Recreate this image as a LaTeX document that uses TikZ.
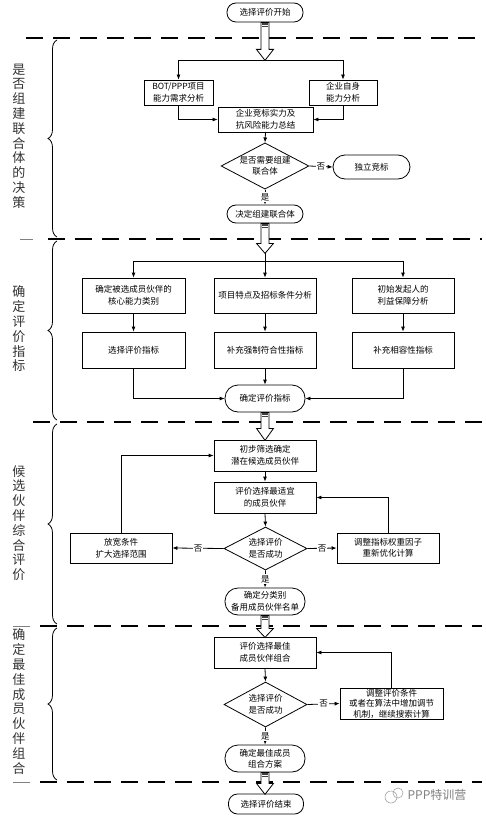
\documentclass[tikz,border=0pt]{standalone}
\usepackage{fontspec}
\newfontfamily\cjk{Noto Sans CJK SC}
\usetikzlibrary{shapes.geometric,arrows.meta,calc,decorations.pathreplacing}
\newcommand\harrow[3]{\draw[hollow] (#1) ++(-4,0) -- ++(0,#2) -- ++(-4.5,0) -- ++(8.5,#3) -- ++(8.5,-#3) -- ++(-4.5,0) -- ++(0,-#2) -- cycle;
  \fill[black!75] (#1) ++(-3.2,0.5) rectangle ++(6.4,4);
  \draw[white, line width=0.5pt] (#1) ++(-3.2,2.5) -- ++(6.4,0);}
\begin{document}
\begin{tikzpicture}[x=1pt,y=-1pt,
  every node/.style={font=\cjk\fontsize{8.5}{11.5}\selectfont, inner sep=0pt},
  box/.style={draw, line width=0.8pt, align=center},
  pill/.style={draw, rectangle, rounded corners=#1, line width=0.8pt, align=center},
  pill/.default=9pt,
  dec/.style={draw, diamond, line width=0.8pt, align=center, shape aspect=1.9},
  arr/.style={line width=0.8pt, -{Latex[length=5pt,width=4pt]}},
  ln/.style={line width=0.8pt},
  sep/.style={line width=2.6pt, dash pattern=on 17pt off 10pt},
  hollow/.style={draw, fill=white, line width=0.8pt},
  lbl/.style={fill=white, inner sep=1pt},
  sec/.style={font=\cjk\fontsize{13}{14.8}\selectfont, align=center, text=black!80},
  brc/.style={decorate, decoration={brace, amplitude=9pt}, line width=0.8pt}
]
\useasboundingbox (0,0) rectangle (486,818);
\fill[white] (0,0) rectangle (486,818);

% separators
\draw[sep] (26,38) -- (482,38);
\draw[sep] (48,239) -- (482,239);
\draw[sep] (33,422) -- (482,422);
\draw[sep] (40,626) -- (482,626);
\draw[sep] (40,782) -- (482,782);
\draw[gray, line width=0.6pt] (20,239) -- (33,239);
\draw[gray, line width=0.6pt] (13,626) -- (30,626);
\draw[gray, line width=0.6pt] (13,782) -- (30,782);

% braces and section labels
\draw[brc] (57,237) -- (57,40);
\draw[brc] (57,420) -- (57,241);
\draw[brc] (57,624) -- (57,424);
\draw[brc] (57,780) -- (57,628);
\node[sec] (s1) at (19,136) {是\\否\\组\\建\\联\\合\\体\\的\\决\\策};
\node[sec] (s2) at (19,329) {确\\定\\评\\价\\指\\标};
\node[sec] (s3) at (19,523) {候\\选\\伙\\伴\\综\\合\\评\\价};
\node[sec] (s4) at (19,701.5) {确\\定\\最\\佳\\成\\员\\伙\\伴\\组\\合};

% section 1
\node[pill, minimum width=76pt, minimum height=19pt] (start) at (265,12.5) {选择评价开始};
\node[box, minimum width=69pt, minimum height=25pt] (bot) at (178.5,92.5) {BOT/PPP项目\\能力需求分析};
\node[box, minimum width=68pt, minimum height=25pt] (self) at (343,92.5) {企业自身\\能力分析};
\node[box, minimum width=95pt, minimum height=25pt] (sum) at (265.5,119.5) {企业竞标实力及\\抗风险能力总结};
\node[dec, minimum width=86pt, minimum height=45pt] (d1) at (265,166) {是否需要组建\\联合体};
\node[pill=12pt, minimum width=77pt, minimum height=24pt] (indep) at (371.5,167) {独立竞标};
\node[pill, minimum width=76pt, minimum height=18pt] (decide) at (265,214) {决定组建联合体};

\coordinate (br1) at ($(start.south)+(0,38)$);
\draw[arr] (br1) -| (bot.north);
\draw[arr] (br1) -| (self.north);
\draw[arr] (bot.south) |- (sum.west);
\draw[arr] (self.south) |- (sum.east);
\draw[arr] (sum.south) -- (d1.north);
\draw[arr] (d1.east) -- node[lbl] {否} (indep.west);
\draw[arr] (d1.south) -- node[lbl] {是} (decide.north);

% section 2
\node[box, minimum width=103pt, minimum height=35pt] (b21) at (133.5,295.5) {确定被选成员伙伴的\\核心能力类别};
\node[box, minimum width=102pt, minimum height=35pt] (b22) at (265,295.5) {项目特点及招标条件分析};
\node[box, minimum width=102pt, minimum height=35pt] (b23) at (403,295.5) {初始发起人的\\利益保障分析};
\node[box, minimum width=103pt, minimum height=36pt] (b31) at (133.5,350) {选择评价指标};
\node[box, minimum width=102pt, minimum height=36pt] (b32) at (265,350) {补充强制符合性指标};
\node[box, minimum width=102pt, minimum height=36pt] (b33) at (403,350) {补充相容性指标};
\node[pill=13pt, minimum width=80pt, minimum height=27pt] (p2) at (265,398.5) {确定评价指标};

\coordinate (tip2) at ($(decide.south)+(0,30)$);
\coordinate (br2) at ($(decide.south)+(0,38)$);
\draw[ln] (tip2) -- (br2);
\draw[arr] (br2) -| (b21.north);
\draw[arr] (br2) -| (b23.north);
\draw[arr] (br2) -- (b22.north);
\draw[arr] (b21.south) -- (b31.north);
\draw[arr] (b22.south) -- (b32.north);
\draw[arr] (b23.south) -- (b33.north);
\draw[arr] (b31.south) |- (p2.west);
\draw[arr] (b33.south) |- (p2.east);
\draw[arr] (b32.south) -- (p2.north);

% section 3
\node[box, minimum width=102pt, minimum height=31pt] (c1) at (265,455.5) {初步筛选确定\\潜在候选成员伙伴};
\node[box, minimum width=102pt, minimum height=31pt] (c2) at (265,497.5) {评价选择最适宜\\的成员伙伴};
\node[dec, minimum width=83pt, minimum height=43pt] (d2) at (265.5,548.5) {选择评价\\是否成功};
\node[box, minimum width=102pt, minimum height=30pt] (cl) at (121,548) {放宽条件\\扩大选择范围};
\node[box, minimum width=102pt, minimum height=30pt] (cr) at (388,548) {调整指标权重因子\\重新优化计算};
\node[pill=13pt, minimum width=80pt, minimum height=27pt] (p3) at (265,601.5) {确定分类别\\备用成员伙伴名单};

\draw[arr] (c1.south) -- (c2.north);
\draw[arr] (c2.south) -- (d2.north);
\draw[arr] (d2.west) -- node[lbl] {否} (cl.east);
\draw[arr] (d2.east) -- node[lbl] {否} (cr.west);
\draw[arr] (cl.north) |- (c1.west);
\draw[arr] (cr.north) |- (c2.east);
\draw[arr] (d2.south) -- node[lbl] {是} (p3.north);

% section 4
\node[box, minimum width=102pt, minimum height=31pt] (e1) at (265,652.5) {评价选择最佳\\成员伙伴组合};
\node[dec, minimum width=83pt, minimum height=45pt] (d3) at (265.5,704.5) {选择评价\\是否成功};
\node[box, minimum width=103pt, minimum height=31pt, font=\cjk\fontsize{8.5}{10.5}\selectfont] (er) at (391.5,703.5) {调整评价条件\\或者在算法中增加调节\\机制，继续搜索计算};
\node[pill=13pt, minimum width=80pt, minimum height=27pt] (p4) at (265,758.5) {确定最佳成员\\组合方案};
\node[pill, minimum width=75pt, minimum height=20pt] (end) at (266,804) {选择评价结束};

\draw[arr] (e1.south) -- (d3.north);
\draw[arr] (d3.east) -- node[lbl] {否} (er.west);
\draw[arr] (er.north) |- (e1.east);
\draw[arr] (d3.south) -- node[lbl] {是} (p4.north);

% hollow arrows between sections
\harrow{start.south}{27}{11}
\harrow{decide.south}{20}{10}
\harrow{p2.south}{16}{12}
\harrow{p3.south}{13}{9}
\harrow{p4.south}{11}{11}

% watermark
\draw[black!35, line width=0.6pt] (391,797) circle (6pt);
\draw[black!35, line width=0.6pt] (398,793) circle (5pt);
\node[text=black!50, font=\cjk\fontsize{12}{14}\selectfont] (wm) at (437,795) {PPP特训营};
\end{tikzpicture}
\end{document}
